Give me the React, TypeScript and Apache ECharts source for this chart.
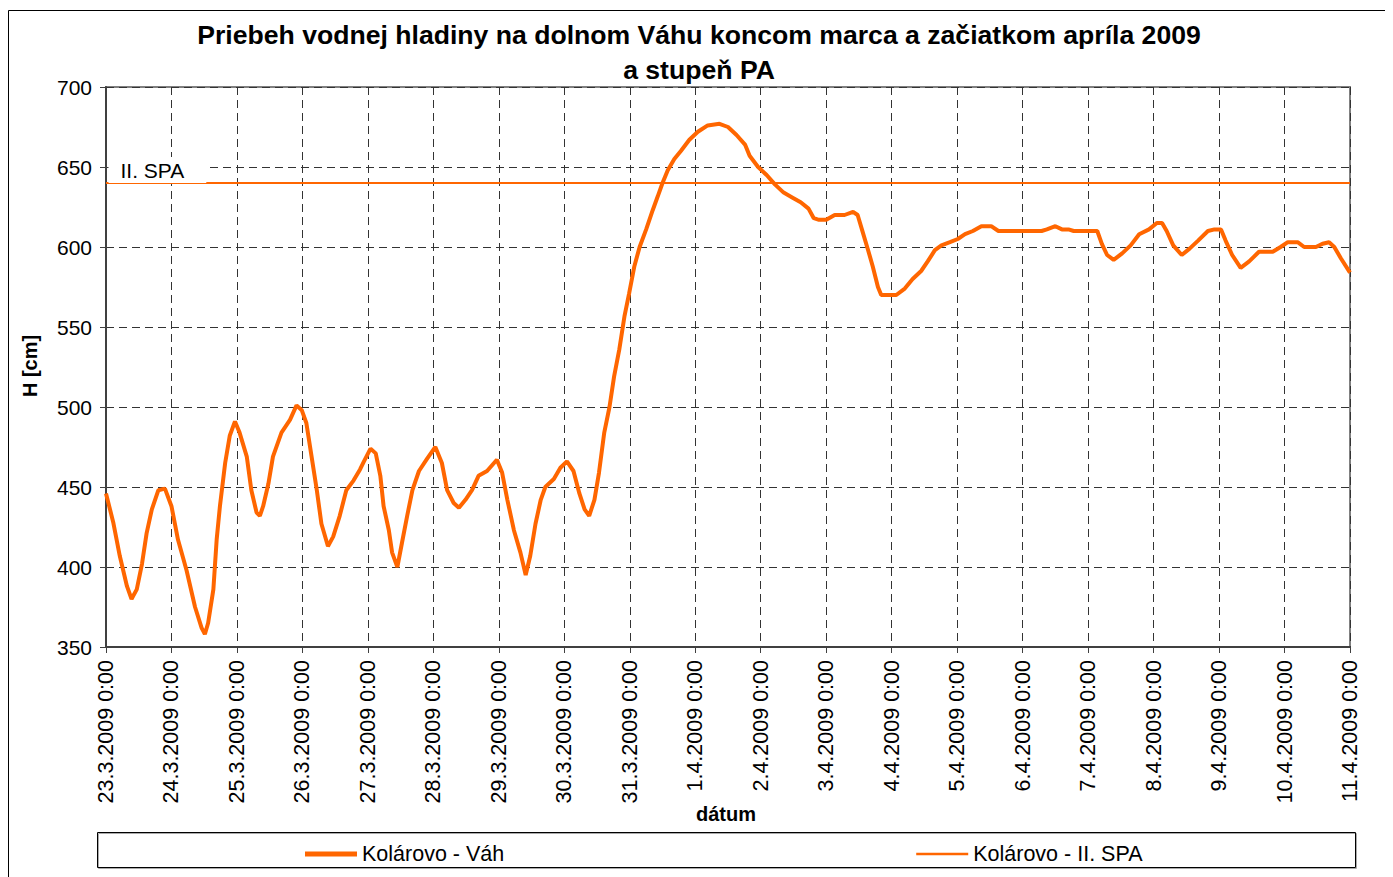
import React, { useEffect, useRef } from "react";
import * as echarts from "echarts";

const titleLines = [
  "Priebeh vodnej hladiny na dolnom Váhu koncom marca a začiatkom apríla 2009",
  "a stupeň PA",
];

// tick labels: one per day from 23.3.2009 0:00
const dateLabels = [
  "23.3.2009 0:00", "24.3.2009 0:00", "25.3.2009 0:00", "26.3.2009 0:00",
  "27.3.2009 0:00", "28.3.2009 0:00", "29.3.2009 0:00", "30.3.2009 0:00",
  "31.3.2009 0:00", "1.4.2009 0:00", "2.4.2009 0:00", "3.4.2009 0:00",
  "4.4.2009 0:00", "5.4.2009 0:00", "6.4.2009 0:00", "7.4.2009 0:00",
  "8.4.2009 0:00", "9.4.2009 0:00", "10.4.2009 0:00", "11.4.2009 0:00",
];

const yTicks = { min: 350, max: 700, step: 50 };

// [days since 23.3.2009 0:00, water level H cm]
const vahLevels: [number, number][] = [
  [0, 446], [0.11, 428], [0.21, 407], [0.32, 388], [0.39, 380], [0.47, 386],
  [0.55, 402], [0.62, 421], [0.7, 436], [0.8, 448], [0.9, 449], [1.0, 438],
  [1.1, 417], [1.23, 398], [1.36, 375], [1.46, 362], [1.51, 358], [1.56, 365],
  [1.64, 386], [1.69, 417], [1.74, 438], [1.82, 465], [1.89, 482], [1.97, 491],
  [2.04, 484], [2.15, 469], [2.22, 448], [2.3, 434], [2.35, 432], [2.4, 438],
  [2.48, 452], [2.55, 469], [2.68, 484], [2.81, 492], [2.91, 501], [2.99, 498],
  [3.06, 490], [3.14, 469], [3.22, 448], [3.29, 427], [3.39, 413], [3.47, 419],
  [3.57, 432], [3.67, 448], [3.78, 454], [3.88, 461], [3.94, 466], [4.04, 474],
  [4.12, 471], [4.19, 457], [4.24, 438], [4.32, 423], [4.37, 409], [4.45, 400],
  [4.52, 415], [4.6, 432], [4.68, 448], [4.78, 460], [4.91, 468], [5.03, 475],
  [5.13, 465], [5.21, 448], [5.31, 440], [5.39, 437], [5.49, 442], [5.59, 448],
  [5.69, 457], [5.82, 460], [5.97, 467], [6.05, 459], [6.13, 442], [6.23, 423],
  [6.33, 409], [6.41, 395], [6.48, 407], [6.56, 427], [6.64, 442], [6.71, 450],
  [6.84, 455], [6.94, 462], [7.04, 466], [7.14, 460], [7.23, 446], [7.31, 436],
  [7.38, 432], [7.46, 442], [7.53, 459], [7.61, 484], [7.69, 500], [7.76, 519],
  [7.84, 536], [7.92, 557], [7.99, 571], [8.07, 588], [8.15, 600], [8.25, 611],
  [8.35, 623], [8.43, 632], [8.5, 640], [8.58, 648], [8.68, 655], [8.78, 660],
  [8.91, 667], [9.04, 672], [9.19, 676], [9.37, 677], [9.5, 675], [9.63, 670],
  [9.76, 664], [9.83, 657], [9.96, 650], [10.09, 645], [10.22, 639], [10.35, 634],
  [10.48, 631], [10.61, 628], [10.73, 624], [10.81, 618], [10.89, 617], [11.0, 617],
  [11.13, 620], [11.28, 620], [11.41, 622], [11.48, 620], [11.56, 609], [11.64, 598],
  [11.71, 588], [11.79, 575], [11.84, 570], [12.07, 570], [12.2, 574], [12.32, 580],
  [12.45, 585], [12.55, 591], [12.66, 598], [12.76, 601], [12.89, 603], [13.01, 605],
  [13.12, 608], [13.24, 610], [13.37, 613], [13.52, 613], [13.63, 610], [13.98, 610],
  [14.29, 610], [14.37, 611], [14.5, 613], [14.6, 611], [14.7, 611], [14.78, 610],
  [15.14, 610], [15.21, 602], [15.29, 595], [15.39, 592], [15.52, 596], [15.65, 601],
  [15.78, 608], [15.93, 611], [16.05, 615], [16.13, 615], [16.2, 610], [16.3, 601],
  [16.43, 595], [16.55, 599], [16.68, 604], [16.83, 610], [16.93, 611], [17.03, 611],
  [17.1, 604], [17.2, 595], [17.33, 587], [17.46, 591], [17.61, 597], [17.82, 597],
  [17.94, 600], [18.05, 603], [18.2, 603], [18.3, 600], [18.48, 600], [18.58, 602],
  [18.68, 603], [18.76, 600], [18.86, 593], [19.0, 584],
];

// II. SPA (flood activity level 2) at Kolárovo
const spaLevel = 640;
const spaRange = [0, 19];

const seriesNames = ["Kolárovo - Váh", "Kolárovo - II. SPA"];
const axisNames = { x: "dátum", y: "H [cm]" };
const spaLabel = "II. SPA";

const FONT = "'Liberation Sans', Arial, sans-serif";
const ORANGE = "#FF6600";

// legend icons: line samples of different thickness (bounding box 52x14)
const thickIcon = "path://M0,0M52,14M0,4.5H52V9.5H0Z";
const thinIcon = "path://M0,0M52,14M0,5.75H52V8.25H0Z";

export default function App() {
  const ref = useRef<HTMLDivElement>(null);

  useEffect(() => {
    document.documentElement.style.overflow = "hidden";
    document.body.style.overflow = "hidden";
    if (!ref.current) return;
    const chart = echarts.init(ref.current, undefined, { renderer: "svg" });
    const dashed = { type: [8, 5] as number[], color: "#333", width: 1 };
    chart.setOption({
      animation: false,
      backgroundColor: "#ffffff",
      textStyle: { fontFamily: FONT },
      title: {
        text: titleLines.join("\n"),
        left: 691,
        top: 9,
        padding: 0,
        textAlign: "center",
        textStyle: {
          fontFamily: FONT,
          fontSize: 26.6,
          fontWeight: "bold",
          color: "#000",
          lineHeight: 35,
        },
      },
      grid: {
        left: 98,
        top: 79,
        width: 1244,
        height: 560,
        show: true,
        borderColor: "#808080",
        borderWidth: 2,
        backgroundColor: "transparent",
      },
      legend: {
        left: 297,
        top: 835,
        padding: 0,
        itemWidth: 52,
        itemHeight: 14,
        itemGap: 412,
        data: [
          { name: seriesNames[0], icon: thickIcon },
          { name: seriesNames[1], icon: thinIcon },
        ],
        textStyle: { fontFamily: FONT, fontSize: 21.5, color: "#000" },
      },
      xAxis: {
        type: "value",
        min: 0,
        max: dateLabels.length - 1,
        interval: 1,
        axisLine: { show: true, onZero: false, lineStyle: { color: "#404040", width: 2 } },
        axisTick: { show: true, length: 6, lineStyle: { color: "#404040" } },
        axisLabel: {
          rotate: 90,
          margin: 13,
          fontSize: 21.5,
          color: "#000",
          fontFamily: FONT,
          formatter: (v: number) => dateLabels[Math.round(v)] ?? "",
        },
        splitLine: { show: true, lineStyle: dashed },
      },
      yAxis: {
        type: "value",
        min: yTicks.min,
        max: yTicks.max,
        interval: yTicks.step,
        axisLine: { show: true, lineStyle: { color: "#404040", width: 2 } },
        axisTick: { show: true, length: 6, lineStyle: { color: "#404040" } },
        axisLabel: { fontSize: 21, margin: 14, color: "#000", fontFamily: FONT },
        splitLine: { show: true, lineStyle: dashed },
      },
      graphic: [
        {
          type: "rect",
          shape: { x: 0.5, y: 2.5, width: 1377, height: 900 },
          style: { fill: "none", stroke: "#000", lineWidth: 1 },
          silent: true,
          z: -10,
        },
        {
          type: "rect",
          shape: { x: 89.5, y: 824.5, width: 1258, height: 35 },
          style: {
            fill: "none",
            stroke: "#000",
            lineWidth: 1,
            shadowColor: "#aaa",
            shadowOffsetX: 1,
            shadowOffsetY: 1,
            shadowBlur: 0,
          },
          silent: true,
        },
        {
          type: "text",
          x: 22,
          y: 358,
          rotation: Math.PI / 2,
          style: {
            text: axisNames.y,
            fontFamily: FONT,
            fontSize: 20,
            fontWeight: "bold",
            fill: "#000",
            align: "center",
            verticalAlign: "middle",
          },
        },
        {
          type: "text",
          x: 718,
          y: 806,
          style: {
            text: axisNames.x,
            fontFamily: FONT,
            fontSize: 20,
            fontWeight: "bold",
            fill: "#000",
            align: "center",
            verticalAlign: "middle",
          },
        },
      ],
      series: [
        {
          name: seriesNames[0],
          type: "line",
          data: vahLevels,
          symbol: "none",
          lineStyle: { color: ORANGE, width: 4 },
          itemStyle: { color: ORANGE },
          z: 3,
        },
        {
          name: seriesNames[1],
          type: "line",
          data: spaRange.map((d) => [d, spaLevel]),
          symbol: "none",
          lineStyle: { color: ORANGE, width: 2 },
          itemStyle: { color: ORANGE },
          z: 2,
          markPoint: {
            symbol: "circle",
            symbolSize: 1,
            itemStyle: { color: "rgba(0,0,0,0)" },
            data: [{ coord: [spaRange[0], spaLevel] }],
            label: {
              show: true,
              formatter: spaLabel,
              position: "right",
              distance: 0,
              offset: [2, -13],
              fontFamily: FONT,
              fontSize: 21,
              color: "#000",
              backgroundColor: "#fff",
              padding: [3, 22, 2, 12],
            },
          },
        },
      ],
    });
    return () => chart.dispose();
  }, []);

  return <div ref={ref} style={{ width: 1385, height: 869 }} />;
}
